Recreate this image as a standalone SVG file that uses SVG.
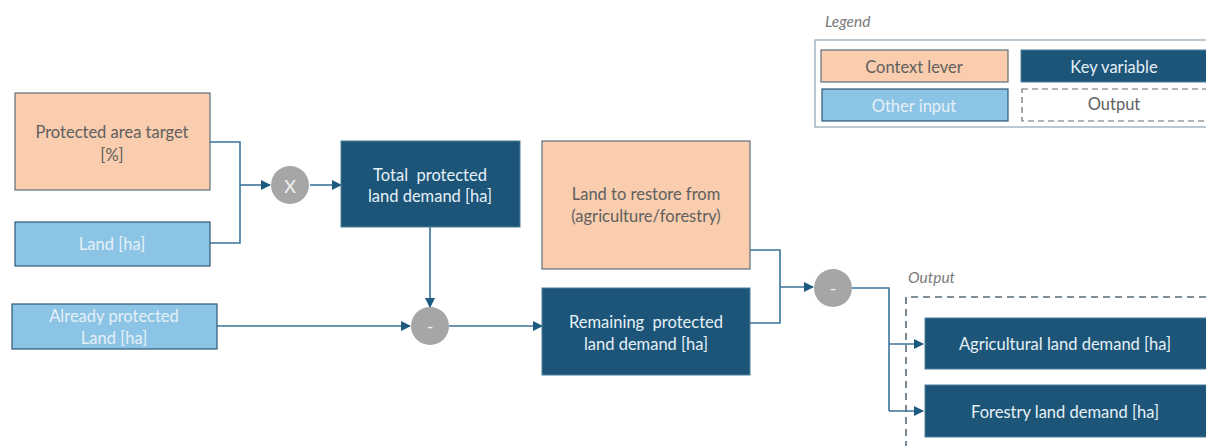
<svg xmlns="http://www.w3.org/2000/svg" width="1206" height="446" viewBox="0 0 1206 446">
<style>
text{font-family:Lato,"Open Sans","Liberation Sans",sans-serif;font-size:16.5px;text-anchor:middle;dominant-baseline:central}
.lever{fill:#f9cdad;stroke:#5c6f7c;stroke-width:1.2}
.input{fill:#8cc4e6;stroke:#2f5873;stroke-width:1.2}
.key{fill:#1c5578;stroke:#4d7f9c;stroke-width:1}
.op{fill:#a6a6a6}
.dk{fill:#606060}
.lt{fill:#e6f0f7}
.optxt{fill:#f2f2f2;font-size:18px}
.conn{fill:none;stroke:#3a7399;stroke-width:1.6}
.ital{font-style:italic;fill:#7a7a7a;text-anchor:start;font-size:15.5px}
.dash{fill:none;stroke:#556b7a;stroke-width:1.6;stroke-dasharray:7 5}
</style>
<defs>
<marker id="arr" markerWidth="10" markerHeight="10" refX="9" refY="5" orient="auto" markerUnits="userSpaceOnUse">
<path d="M0,0 L10,5 L0,10 z" fill="#1d5a80"/>
</marker>
</defs>
<rect width="1206" height="446" fill="#ffffff"/>

<g id="legend">
<text class="ital" x="825" y="21">Legend</text>
<rect x="815" y="40" width="400" height="87" fill="#ffffff" stroke="#8aa3b3" stroke-width="1.2"/>
<rect class="lever" x="821" y="50" width="187" height="32"/>
<text class="dk" x="914" y="67">Context lever</text>
<rect class="key" x="1021" y="50" width="200" height="32"/>
<text class="lt" x="1114" y="67">Key variable</text>
<rect class="input" x="822" y="89" width="186" height="32"/>
<text class="lt" x="914" y="106">Other input</text>
<rect x="1022" y="89" width="200" height="32" fill="#ffffff" stroke="#6a6a6a" stroke-width="1.2" stroke-dasharray="6 4"/>
<text class="dk" x="1114" y="104">Output</text>
</g>

<g id="output-area">
<text class="ital" x="908" y="277">Output</text>
<path class="dash" d="M906,460 V297 H1215"/>
</g>

<g id="connectors">
<path class="conn" d="M210,142 H240 V243 H210"/>
<path class="conn" d="M240,185 H270" marker-end="url(#arr)"/>
<path class="conn" d="M310,185 H341" marker-end="url(#arr)"/>
<path class="conn" d="M430,227 V307" marker-end="url(#arr)"/>
<path class="conn" d="M217,326 H410" marker-end="url(#arr)"/>
<path class="conn" d="M449,326 H542" marker-end="url(#arr)"/>
<path class="conn" d="M750,250 H780 V323 H750"/>
<path class="conn" d="M780,287 H813" marker-end="url(#arr)"/>
<path class="conn" d="M852,288 H889 V411"/>
<path class="conn" d="M889,344 H923" marker-end="url(#arr)"/>
<path class="conn" d="M889,411 H923" marker-end="url(#arr)"/>
</g>

<g id="protected-area-target">
<rect class="lever" x="15" y="93" width="195" height="97"/>
<text class="dk" x="112" y="132">Protected area target</text>
<text class="dk" x="112" y="155">[%]</text>
</g>
<g id="land">
<rect class="input" x="15" y="222" width="195" height="44"/>
<text class="lt" x="112" y="244">Land [ha]</text>
</g>
<g id="already-protected">
<rect class="input" x="12" y="304" width="205" height="45"/>
<text class="lt" x="114" y="316">Already protected</text>
<text class="lt" x="114" y="338">Land [ha]</text>
</g>
<g id="op-multiply">
<circle class="op" cx="290" cy="185" r="19"/>
<text class="optxt" x="290" y="186">X</text>
</g>
<g id="total-protected">
<rect class="key" x="341" y="141" width="179" height="86"/>
<text class="lt" x="430" y="175" xml:space="preserve">Total  protected</text>
<text class="lt" x="430" y="196">land demand [ha]</text>
</g>
<g id="op-minus-1">
<circle class="op" cx="430" cy="326" r="19"/>
<text class="optxt" x="430" y="326">-</text>
</g>
<g id="land-to-restore">
<rect class="lever" x="542" y="141" width="208" height="128"/>
<text class="dk" x="646" y="194">Land to restore from</text>
<text class="dk" x="646" y="216">(agriculture/forestry)</text>
</g>
<g id="remaining-protected">
<rect class="key" x="542" y="288" width="208" height="87"/>
<text class="lt" x="646" y="322" xml:space="preserve">Remaining  protected</text>
<text class="lt" x="646" y="344">land demand [ha]</text>
</g>
<g id="op-minus-2">
<circle class="op" cx="833" cy="288" r="19"/>
<text class="optxt" x="833" y="288">-</text>
</g>
<g id="agricultural">
<rect class="key" x="925" y="318" width="290" height="51"/>
<text class="lt" x="1065" y="344">Agricultural land demand [ha]</text>
</g>
<g id="forestry">
<rect class="key" x="925" y="385" width="290" height="52"/>
<text class="lt" x="1065" y="412">Forestry land demand [ha]</text>
</g>
</svg>
